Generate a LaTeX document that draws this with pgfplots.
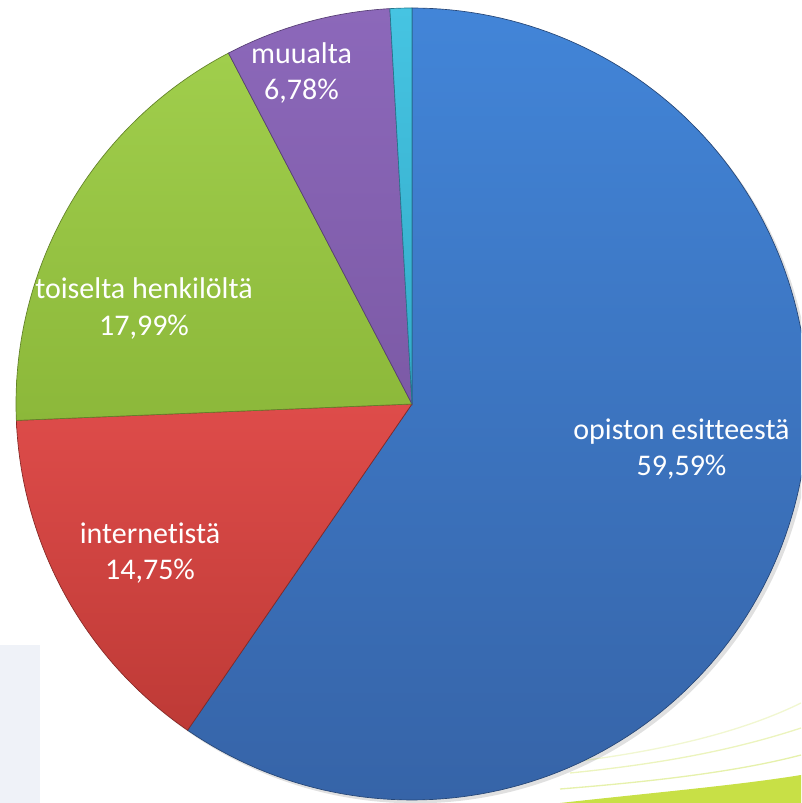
\documentclass[border=0pt]{standalone}
\usepackage{fontspec}
\setmainfont{Carlito}[Ligatures={NoCommon}]
\usepackage{pgfplots}
\pgfplotsset{compat=1.18}

\definecolor{blueT}{RGB}{66,133,216}
\definecolor{blueB}{RGB}{54,100,168}
\definecolor{redT}{RGB}{222,76,74}
\definecolor{redB}{RGB}{190,58,54}
\definecolor{greenT}{RGB}{160,206,76}
\definecolor{greenB}{RGB}{140,184,58}
\definecolor{purpleT}{RGB}{140,104,186}
\definecolor{purpleB}{RGB}{124,90,166}
\definecolor{cyanT}{RGB}{70,196,226}
\definecolor{cyanB}{RGB}{50,170,200}
\definecolor{panel}{RGB}{239,242,248}
\definecolor{lime}{RGB}{200,224,70}

\tikzset{slicelabel/.style={text=white, align=center, font=\fontsize{22.5}{27.5}\selectfont}}

% shares in percent, clockwise from 12 o'clock
\def\vA{59.59} % opiston esitteestä
\def\vB{14.75} % internetistä
\def\vC{17.99} % toiselta henkilöltä
\def\vD{6.78}  % muualta
\def\vE{0.89}  % no label

\pgfmathsetmacro\aA{90}
\pgfmathsetmacro\aB{\aA-3.6*\vA}
\pgfmathsetmacro\aC{\aB-3.6*\vB}
\pgfmathsetmacro\aD{\aC-3.6*\vC}
\pgfmathsetmacro\aE{\aD-3.6*\vD}
\pgfmathsetmacro\aF{\aE-3.6*\vE}

\begin{document}
\begin{tikzpicture}
\useasboundingbox (0,0) rectangle (600.75pt,602.25pt);
\begin{axis}[
    at={(0,0)}, anchor=south west,
    width=600.75pt, height=602.25pt, scale only axis,
    xmin=0, xmax=801, ymin=0, ymax=803,
    hide axis,
    samples=150,
    ]
    % slide background bits
    \fill[panel] (axis cs:0,0) rectangle (axis cs:40,158);
    \fill[lime] (axis cs:560,0) .. controls (axis cs:650,10) and (axis cs:740,18) .. (axis cs:801,28) -- (axis cs:801,0) -- cycle;
    \draw[lime!45, line width=1pt] (axis cs:560,14) .. controls (axis cs:660,22) and (axis cs:740,32) .. (axis cs:801,48);
    \draw[lime!35, line width=1pt] (axis cs:570,30) .. controls (axis cs:670,40) and (axis cs:740,55) .. (axis cs:801,75);
    \draw[lime!25, line width=1pt] (axis cs:580,42) .. controls (axis cs:680,55) and (axis cs:750,75) .. (axis cs:801,100);
    % soft shadow
    \fill[black, opacity=0.12] ([shift={(2.5pt,-2.5pt)}]axis cs:412,399) circle[radius=297pt];

    \addplot[draw=blueB!70!black, line width=0.5pt, top color=blueT, bottom color=blueB, domain=\aB:\aA]
        ({412+396*cos(x)},{399+396*sin(x)}) -- (axis cs:412,399) -- cycle;
    \addplot[draw=redB!70!black, line width=0.5pt, top color=redT, bottom color=redB, domain=\aC:\aB]
        ({412+396*cos(x)},{399+396*sin(x)}) -- (axis cs:412,399) -- cycle;
    \addplot[draw=greenB!70!black, line width=0.5pt, top color=greenT, bottom color=greenB, domain=\aD:\aC]
        ({412+396*cos(x)},{399+396*sin(x)}) -- (axis cs:412,399) -- cycle;
    \addplot[draw=purpleB!70!black, line width=0.5pt, top color=purpleT, bottom color=purpleB, domain=\aE:\aD, samples=40]
        ({412+396*cos(x)},{399+396*sin(x)}) -- (axis cs:412,399) -- cycle;
    \addplot[draw=cyanB!70!black, line width=0.5pt, top color=cyanT, bottom color=cyanB, domain=\aF:\aE, samples=10]
        ({412+396*cos(x)},{399+396*sin(x)}) -- (axis cs:412,399) -- cycle;

    \node[slicelabel] at (axis cs:681.5,354) {opiston esitteestä\\59,59\%};
    \node[slicelabel] at (axis cs:150,250) {internetistä\\14,75\%};
    \node[slicelabel] at (axis cs:144,494.5) {toiselta henkilöltä\\17,99\%};
    \node[slicelabel] at (axis cs:301.5,730) {muualta\\6,78\%};
\end{axis}
\end{tikzpicture}
\end{document}
